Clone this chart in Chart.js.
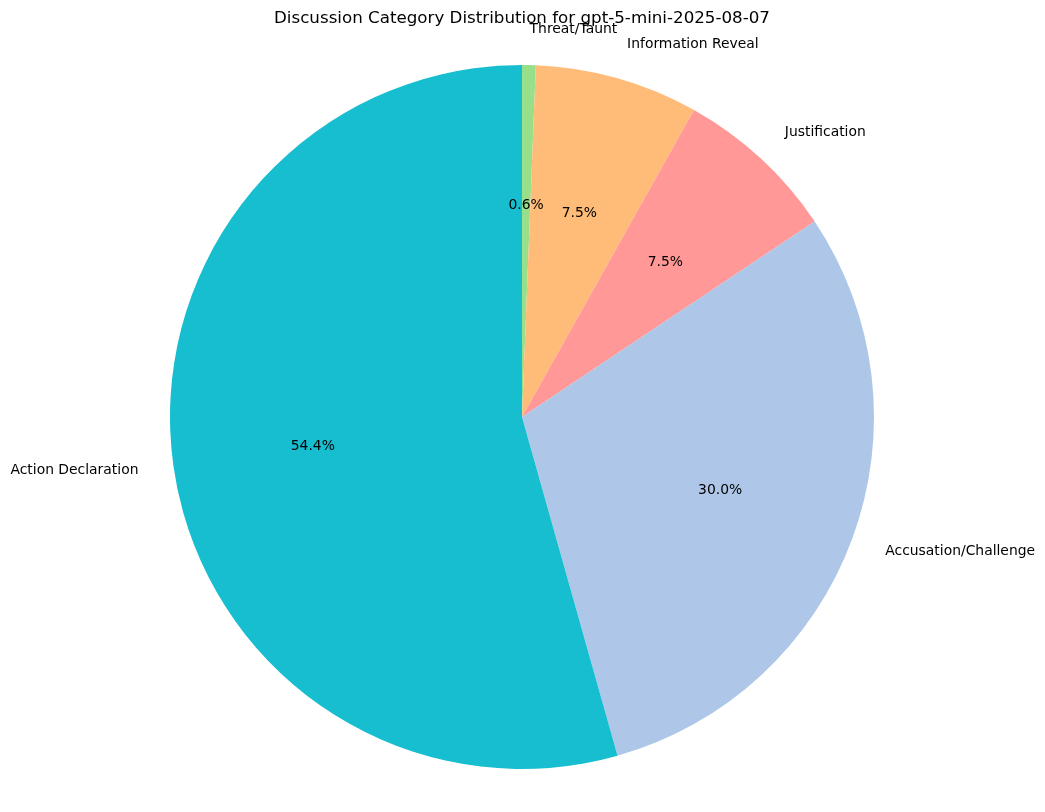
<!DOCTYPE html>
<html>
<head>
<meta charset="utf-8">
<script src="https://cdn.jsdelivr.net/npm/chart.js@4"></script>
<style>
  html, body { margin: 0; padding: 0; background: #ffffff; }
  #wrap { width: 1045px; height: 812px; position: relative; }
</style>
</head>
<body>
<div id="wrap"><canvas id="pieChart"></canvas></div>
<script>
// values (clockwise from top)
const categories = ["Threat/Taunt", "Information Reveal", "Justification", "Accusation/Challenge", "Action Declaration"];
const counts = [1, 12, 12, 48, 87];
const sliceColors = ["#98df8a", "#ffbb78", "#ff9896", "#aec7e8", "#17becf"];
const chartTitle = "Discussion Category Distribution for gpt-5-mini-2025-08-07";

const FONT = "'DejaVu Sans', sans-serif";

// draws outside labels, percentages and title the way matplotlib places them
const pieText = {
  id: "pieText",
  afterDraw(chart) {
    const ctx = chart.ctx;
    const meta = chart.getDatasetMeta(0);
    const total = counts.reduce((a, b) => a + b, 0);
    ctx.save();
    ctx.fillStyle = "#000000";
    meta.data.forEach((arc, i) => {
      const mid = (arc.startAngle + arc.endAngle) / 2;
      const r = arc.outerRadius;
      const cx = arc.x, cy = arc.y;

      // category label at 1.1 r
      const lx = cx + Math.cos(mid) * r * 1.1;
      const ly = cy + Math.sin(mid) * r * 1.1;
      ctx.font = "13.9px " + FONT;
      ctx.textBaseline = "middle";
      ctx.textAlign = lx >= cx ? "left" : "right";
      ctx.fillText(categories[i], lx, ly);

      // percentage at 0.6 r
      const px = cx + Math.cos(mid) * r * 0.6;
      const py = cy + Math.sin(mid) * r * 0.6;
      ctx.textAlign = "center";
      ctx.fillText((counts[i] / total * 100).toFixed(1) + "%", px, py);
    });

    ctx.font = "16.7px " + FONT;
    ctx.textAlign = "center";
    ctx.textBaseline = "alphabetic";
    ctx.fillText(chartTitle, 522, 23);
    ctx.restore();
  }
};

const ctxPie = document.getElementById("pieChart").getContext("2d");
new Chart(ctxPie, {
  type: "pie",
  data: {
    labels: categories,
    datasets: [{
      data: counts,
      backgroundColor: sliceColors,
      borderWidth: 0
    }]
  },
  options: {
    responsive: true,
    maintainAspectRatio: false,
    animation: false,
    layout: {
      padding: { left: 170, right: 171, top: 65, bottom: 43 }
    },
    plugins: {
      legend: { display: false },
      tooltip: { enabled: false },
      title: { display: false }
    }
  },
  plugins: [pieText]
});
</script>
</body>
</html>
